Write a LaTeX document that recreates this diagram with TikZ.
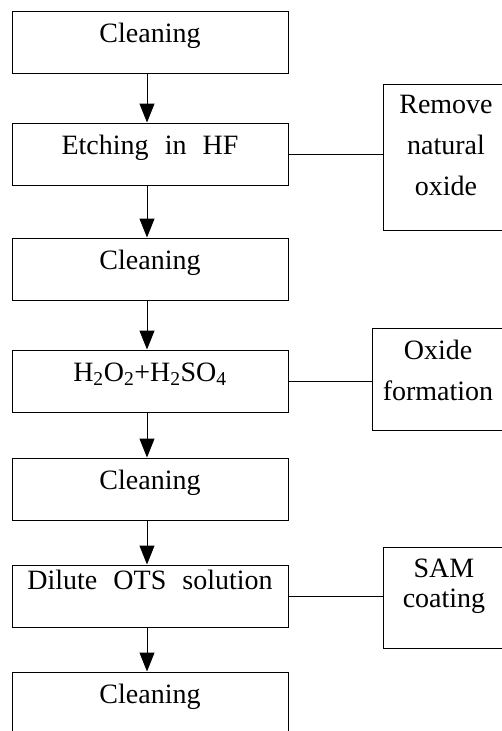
\documentclass[tikz,border=0pt]{standalone}
\usepackage{fontspec}
\setmainfont[WordSpace = 2.3]{Liberation Serif}
\usetikzlibrary{arrows.meta}
\begin{document}
\begin{tikzpicture}[x = 1pt, y = -1pt,
  stepbox/.style = {draw, line width = 1pt, inner sep = 0pt, minimum width = 276pt, text height = 31pt, text depth = 31pt, font = \fontsize{28}{41}\selectfont},
  notebox/.style = {draw, line width = 1pt, inner sep = 0pt, align = center, font = \fontsize{28}{41}\selectfont},
  flow/.style = {line width = 1pt, -{Triangle[width = 15pt, length = 19pt]}},
  link/.style = {line width = 1pt}]
\useasboundingbox (0, 0) rectangle (502, 731);
\node [stepbox] (clean1) at (150, 42) {Cleaning};
\node [stepbox] (etch) at (150, 154) {Etching in HF};
\node [stepbox] (clean2) at (150, 269) {Cleaning};
\node [stepbox] (piranha) at (150, 381) {H\textsubscript{2}O\textsubscript{2}+H\textsubscript{2}SO\textsubscript{4}};
\node [stepbox] (clean3) at (150, 489) {Cleaning};
\node [stepbox, text height = 24pt, text depth = 38pt] (ots) at (150, 596) {Dilute OTS solution};
\node [stepbox] (clean4) at (150, 703) {Cleaning};
\node [notebox, minimum width = 126pt, text height = 111pt, text depth = 35pt] (remove) at (446, 157) {Remove\\natural\\oxide};
\node [notebox, minimum width = 132pt, text height = 72pt, text depth = 30pt] (oxide) at (438, 379) {Oxide\\formation};
\node [notebox, minimum width = 122pt, text height = 60pt, text depth = 41pt, font = \fontsize{28}{30}\selectfont] (sam) at (444, 597.5) {SAM\\coating};
\draw [flow] ([xshift = -3pt]clean1.south) -- ([xshift = -3pt]etch.north);
\draw [flow] ([xshift = -3pt]etch.south) -- ([xshift = -3pt]clean2.north);
\draw [flow] ([xshift = -3pt]clean2.south) -- ([xshift = -3pt]piranha.north);
\draw [flow] ([xshift = -3pt]piranha.south) -- ([xshift = -3pt]clean3.north);
\draw [flow] ([xshift = -3pt]clean3.south) -- ([xshift = -3pt]ots.north);
\draw [flow] ([xshift = -3pt]ots.south) -- ([xshift = -3pt]clean4.north);
\draw [link] (etch.east) -- (etch.east -| remove.west);
\draw [link] (piranha.east) -- (piranha.east -| oxide.west);
\draw [link] (ots.east) -- (ots.east -| sam.west);
\end{tikzpicture}
\end{document}
